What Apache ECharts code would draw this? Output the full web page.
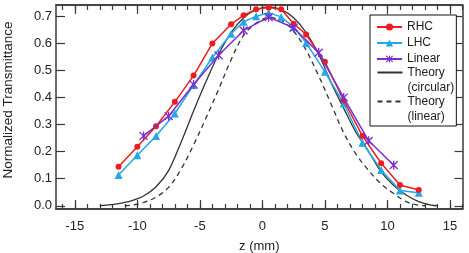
<!DOCTYPE html>
<html><head><meta charset="utf-8">
<script src="https://cdn.jsdelivr.net/npm/echarts@6/dist/echarts.min.js"></script>
<style>html,body{margin:0;padding:0;background:#fff}#c{width:469px;height:253px}</style>
</head><body><div id="c"></div>
<script>
// ---- data ----
const zRHC = [-11.5,-10,-8.5,-7,-5.5,-4,-2.5,-1.5,-0.5,0.5,1.5,2.5,3.5,5,6.5,8,9.5,11,12.5];
const tRHC = [0.144,0.218,0.294,0.384,0.481,0.600,0.671,0.704,0.726,0.733,0.726,0.673,0.633,0.532,0.39,0.258,0.157,0.077,0.058];
const zLHC = [-11.5,-10,-8.5,-7,-5.5,-4,-2.5,-1.5,-0.5,0.5,1.5,2.5,3.5,5,6.5,8,9.5,11,12.5];
const tLHC = [0.114,0.187,0.258,0.341,0.446,0.548,0.636,0.68,0.70,0.713,0.698,0.66,0.602,0.495,0.378,0.233,0.132,0.056,0.048];
const zLin = [-9.5,-7.5,-5.5,-3.5,-1.5,0.5,2.5,4.5,6.5,8.5,10.5];
const tLin = [0.258,0.331,0.448,0.556,0.648,0.697,0.658,0.566,0.40,0.240,0.15];
const zThC = [-13,-12.5,-11.5,-10.5,-9.5,-8.5,-7.5,-6.5,-5.5,-4.5,-3.5,-2.5,-1.5,-0.5,0.5,1.5,2.5,3.5,4.5,5.5,6.5,7.5,8.5,9.5,10.5,11.5,12.5,13.5,14];
const tThC = [0,0.002,0.008,0.018,0.036,0.07,0.13,0.235,0.35,0.46,0.56,0.64,0.695,0.725,0.735,0.725,0.695,0.64,0.56,0.455,0.36,0.27,0.20,0.125,0.075,0.04,0.015,0.002,0];
const zThL = [-11,-10.5,-9.5,-8.5,-7.5,-6.5,-5.5,-4.5,-3.5,-2.5,-1.5,-0.5,0.5,1.5,2.5,3.5,4.5,5.5,6.5,7.5,8.5,9.5,10.5,11.5,12.5,13];
const tThL = [0,0.002,0.012,0.032,0.068,0.135,0.225,0.325,0.43,0.54,0.63,0.675,0.695,0.685,0.645,0.575,0.48,0.375,0.27,0.19,0.13,0.08,0.045,0.015,0.002,0];
const xMajor = [-15,-10,-5,0,5,10,15];
const xMinor = [-16,-15,-14,-13,-12,-11,-10,-9,-8,-7,-6,-5,-4,-3,-2,-1,0,1,2,3,4,5,6,7,8,9,10,11,12,13,14,15,16];
const yTicks = [0,0.1,0.2,0.3,0.4,0.5,0.6,0.7];

const pairs = (z, t) => z.map((v, i) => [v, t[i]]);
const FONT = 'Liberation Sans, Arial, sans-serif';
const AX = '#3a3a3a';
const star = 'path://M43,0L57,0L57,100L43,100Z M11.95,2.05L97.95,88.05L88.05,97.95L2.05,11.95Z M97.95,11.95L11.95,97.95L2.05,88.05L88.05,2.05Z';

function xAx(pos, ticks, len, labels) {
  return {
    type: 'value', position: pos, min: -16.5, max: 16,
    axisLine: { show: labels !== null, onZero: false, lineStyle: { color: AX, width: 1.5 } },
    axisTick: { show: true, inside: true, length: len, customValues: ticks, lineStyle: { color: AX, width: 1.2 } },
    axisLabel: labels ? { show: true, customValues: xMajor, margin: 10.5, fontSize: 13, color: '#222', fontFamily: FONT } : { show: false },
    splitLine: { show: false }
  };
}

const chart = echarts.init(document.getElementById('c'));
chart.setOption({
  animation: false,
  backgroundColor: '#fff',
  grid: { left: 56, right: 6.5, top: 5, bottom: 44, containLabel: false, outerBoundsMode: 'none' },
  xAxis: [
    Object.assign(xAx('bottom', xMajor, 9, true), { name: 'z (mm)', nameLocation: 'middle', nameGap: 31, nameTextStyle: { fontSize: 13, color: '#222', fontFamily: FONT } }),
    xAx('bottom', xMinor, 5, false),
    xAx('top', xMajor, 9, false),
    xAx('top', xMinor, 5, false)
  ],
  yAxis: [
    {
      type: 'value', position: 'left', min: -0.012, max: 0.742,
      name: 'Normalized Transmittance', nameLocation: 'middle', nameGap: 41, nameRotate: 90,
      nameTextStyle: { fontSize: 13.5, color: '#222', fontFamily: FONT, padding: [0, 0, 0, 14] },
      axisLine: { show: true, onZero: false, lineStyle: { color: AX, width: 1.5 } },
      axisTick: { show: true, inside: true, length: 9, customValues: yTicks, lineStyle: { color: AX, width: 1.2 } },
      axisLabel: { customValues: yTicks, formatter: v => v.toFixed(1), margin: 4, fontSize: 13, color: '#222', fontFamily: FONT },
      splitLine: { show: false }
    },
    {
      type: 'value', position: 'right', min: -0.012, max: 0.742,
      axisLine: { show: true, onZero: false, lineStyle: { color: AX, width: 1.5 } },
      axisTick: { show: true, inside: true, length: 8, customValues: yTicks, lineStyle: { color: AX, width: 1.2 } },
      axisLabel: { show: false },
      splitLine: { show: false }
    }
  ],
  legend: [
    {
      data: ['RHC', 'LHC', 'Linear'], orient: 'vertical', left: 370, top: 15,
      itemWidth: 25, itemHeight: 9, itemGap: 4,
      padding: [6, 16, 61, 6], borderColor: '#111', borderWidth: 1, backgroundColor: '#fff',
      textStyle: { fontSize: 12, color: '#222', fontFamily: FONT }
    },
    {
      data: ['Theory (circular)'], orient: 'vertical', left: 376.5, top: 50, z: 6,
      itemWidth: 25, itemHeight: 9, padding: 0, itemStyle: { opacity: 0 },
      formatter: () => ' \nTheory\n(circular)',
      textStyle: { fontSize: 12, lineHeight: 15, color: '#222', fontFamily: FONT }
    },
    {
      data: ['Theory (linear)'], orient: 'vertical', left: 376.5, top: 79, z: 6,
      itemWidth: 25, itemHeight: 9, padding: 0, itemStyle: { opacity: 0 },
      formatter: () => ' \nTheory\n(linear)',
      textStyle: { fontSize: 12, lineHeight: 15, color: '#222', fontFamily: FONT }
    }
  ],
  series: [
    { name: 'Theory (circular)', type: 'line', data: pairs(zThC, tThC), smooth: 0.35, symbol: 'none',
      lineStyle: { color: '#333', width: 1.3 }, itemStyle: { color: '#333' }, z: 2 },
    { name: 'Theory (linear)', type: 'line', data: pairs(zThL, tThL), smooth: 0.35, symbol: 'none',
      lineStyle: { color: '#333', width: 1.3, type: [5, 4] }, itemStyle: { color: '#333' }, z: 2 },
    { name: 'RHC', type: 'line', data: pairs(zRHC, tRHC), symbol: 'circle', symbolSize: 6,
      lineStyle: { color: '#ee1c1c', width: 1.5 }, itemStyle: { color: '#ee1c1c' }, z: 4 },
    { name: 'LHC', type: 'line', data: pairs(zLHC, tLHC), symbol: 'triangle', symbolSize: 8,
      lineStyle: { color: '#22a8e8', width: 1.5 }, itemStyle: { color: '#22a8e8' }, z: 3 },
    { name: 'Linear', type: 'line', data: pairs(zLin, tLin), symbol: star, symbolSize: 9,
      lineStyle: { color: '#7a2ed0', width: 1.5 }, itemStyle: { color: '#7a2ed0' }, z: 5 }
  ]
});
</script></body></html>
